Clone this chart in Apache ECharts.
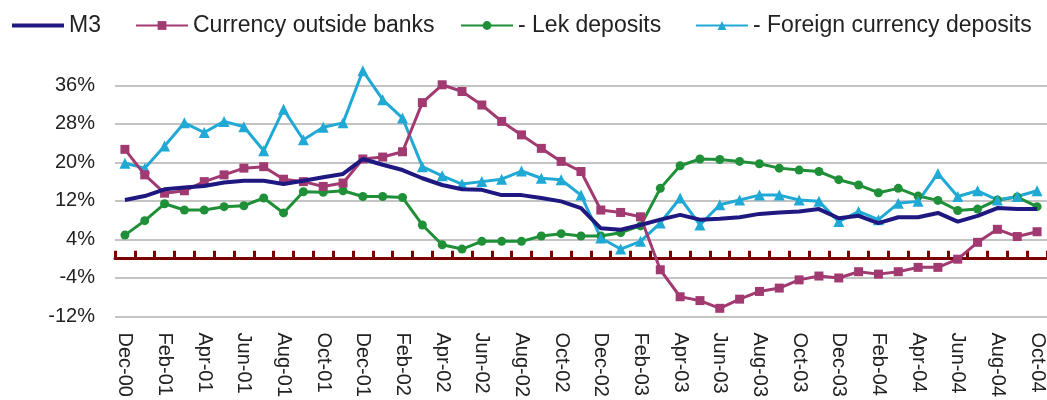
<!DOCTYPE html>
<html>
<head>
<meta charset="utf-8">
<script src="https://cdn.jsdelivr.net/npm/echarts@6/dist/echarts.min.js"></script>
<style>
html,body{margin:0;padding:0;background:#fff;}
#chart{width:1047px;height:400px;}
</style>
</head>
<body>
<div id="chart"></div>
<script>
var months = ['Dec-00','Jan-01','Feb-01','Mar-01','Apr-01','May-01','Jun-01','Jul-01','Aug-01','Sep-01','Oct-01','Nov-01',
  'Dec-01','Jan-02','Feb-02','Mar-02','Apr-02','May-02','Jun-02','Jul-02','Aug-02','Sep-02','Oct-02','Nov-02',
  'Dec-02','Jan-03','Feb-03','Mar-03','Apr-03','May-03','Jun-03','Jul-03','Aug-03','Sep-03','Oct-03','Nov-03',
  'Dec-03','Jan-04','Feb-04','Mar-04','Apr-04','May-04','Jun-04','Jul-04','Aug-04','Sep-04','Oct-04'];

var m3 = [12.2,13.0,14.4,14.8,15.1,15.8,16.2,16.2,15.5,16.2,16.9,17.6,
  20.7,19.5,18.4,16.7,15.3,14.4,14.3,13.2,13.2,12.6,11.9,10.5,
  6.3,6.0,7.0,8.1,9.1,8.1,8.3,8.6,9.3,9.6,9.8,10.3,
  8.4,8.9,7.4,8.6,8.6,9.5,7.7,8.9,10.5,10.3,10.3];

var currency = [22.7,17.4,13.6,14.1,16.0,17.4,18.8,19.1,16.5,16.0,15.0,15.7,
  20.7,21.1,22.2,32.4,36.1,34.7,31.9,28.5,25.7,22.9,20.2,18.1,
  10.1,9.6,8.7,-2.3,-7.9,-8.7,-10.3,-8.4,-6.8,-6.1,-4.4,-3.6,
  -4.0,-2.7,-3.2,-2.7,-1.8,-1.8,-0.1,3.4,6.1,4.6,5.6];

var lek = [4.9,7.9,11.4,10.1,10.1,10.8,11.0,12.6,9.5,13.9,13.8,14.1,
  12.9,12.9,12.7,7.0,2.9,2.0,3.6,3.6,3.6,4.7,5.2,4.7,
  4.7,5.4,6.8,14.6,19.3,20.7,20.6,20.2,19.7,18.8,18.4,18.1,
  16.4,15.3,13.7,14.6,13.0,12.1,10.0,10.3,12.2,12.8,10.8];

var foreign = [19.8,18.8,23.4,28.2,26.2,28.5,27.4,22.4,31.0,24.7,27.3,28.2,
  39.0,33.0,29.2,19.1,17.2,15.5,16.0,16.5,18.2,16.7,16.4,13.2,
  4.3,2.0,3.6,7.4,12.6,7.0,11.2,12.2,13.2,13.2,12.2,11.9,
  7.7,9.8,8.1,11.5,11.9,17.7,12.9,14.1,12.2,12.9,14.1];

var names = ['M3','Currency outside banks','- Lek deposits','- Foreign currency deposits'];
var colors = ['#1e1880','#a23a72','#1f9038','#21a9d6'];
var FONT = '"Liberation Sans", Arial, sans-serif';

var chart = echarts.init(document.getElementById('chart'), null, {renderer:'canvas'});

function legendAt(name, left, extra){
  var l = {
    data:[name], left:left, top:14, padding:0, itemWidth:52, itemHeight:11, itemGap:5,
    textStyle:{fontFamily:FONT, fontSize:23, color:'#222'}
  };
  if (extra) { for (var k in extra) l[k] = extra[k]; }
  return l;
}

var option = {
  backgroundColor:'#ffffff',
  animation:false,
  legend:[
    legendAt(names[0], 12, {icon:'rect', itemHeight:4}),
    legendAt(names[1], 135),
    legendAt(names[2], 460),
    legendAt(names[3], 695)
  ],
  grid:{left:115, top:66, width:937, height:251, containLabel:false},
  xAxis:[{
    type:'category', data:months, boundaryGap:true, position:'bottom',
    axisLine:{show:false, onZero:false},
    axisTick:{show:false},
    splitLine:{show:false},
    axisLabel:{interval:1, rotate:-90, fontFamily:FONT, fontSize:20, color:'#222', margin:16}
  },{
    type:'category', data:months, boundaryGap:true, position:'top',
    axisLine:{show:true, onZero:true, lineStyle:{color:'#7d0000', width:3}},
    axisTick:{show:true, inside:false, interval:0, length:8, lineStyle:{color:'#7d0000', width:3}},
    axisLabel:{show:false},
    splitLine:{show:false}
  }],
  yAxis:{
    type:'value', min:-12, max:40, interval:4,
    axisLine:{show:false}, axisTick:{show:false},
    splitLine:{show:true, lineStyle:{color:['#c4c4c4','rgba(0,0,0,0)'], width:2}},
    axisLabel:{
      fontFamily:FONT, fontSize:20, color:'#222', margin:20,
      formatter:function(v){ return ((v+12)%8===0 && v<40) ? v+'%' : ''; }
    }
  },
  series:[
    {name:names[0], type:'line', data:m3, xAxisIndex:0, symbol:'none',
     lineStyle:{color:colors[0], width:4}, itemStyle:{color:colors[0]}, z:5},
    {name:names[1], type:'line', data:currency, xAxisIndex:0, symbol:'rect', symbolSize:9,
     lineStyle:{color:colors[1], width:3}, itemStyle:{color:colors[1]}, z:4},
    {name:names[2], type:'line', data:lek, xAxisIndex:0, symbol:'circle', symbolSize:9,
     lineStyle:{color:colors[2], width:3}, itemStyle:{color:colors[2]}, z:3},
    {name:names[3], type:'line', data:foreign, xAxisIndex:0, symbol:'triangle', symbolSize:11,
     lineStyle:{color:colors[3], width:3}, itemStyle:{color:colors[3]}, z:3}
  ]
};
chart.setOption(option);
</script>
</body>
</html>
